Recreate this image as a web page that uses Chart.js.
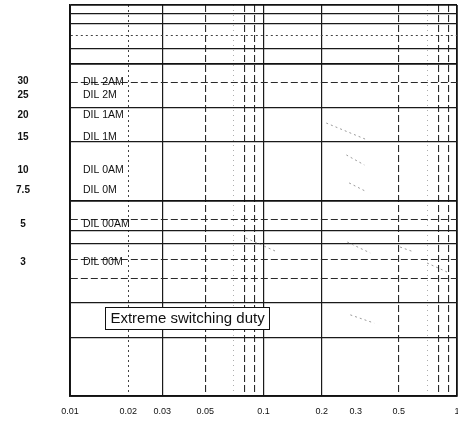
<!DOCTYPE html>
<html>
<head>
<meta charset="utf-8">
<script src="https://cdn.jsdelivr.net/npm/chart.js@4/dist/chart.umd.min.js"></script>
<style>
html,body{margin:0;padding:0;background:#fff;}
canvas{display:block;}
</style>
</head>
<body>
<canvas id="c" width="458" height="421"></canvas>
<script>
// ---------- data ----------
const xTickLabels = [0.01, 0.02, 0.03, 0.05, 0.1, 0.2, 0.3, 0.5, 1];
const xGridValues = [0.01,0.02,0.03,0.04,0.05,0.06,0.07,0.08,0.09,0.1,0.2,0.3,0.4,0.5,0.6,0.7,0.8,0.9,1];
const yGridValues = [1,2,3,4,5,6,7,8,9,10,20,30,40,50,60,70,80,90,100];
const ratingLabels = ['30', '25', '20', '15', '10', '7.5', '5', '3'];
const contactorLabels = ['DIL 2AM', 'DIL 2M', 'DIL 1AM', 'DIL 1M', 'DIL 0AM', 'DIL 0M', 'DIL 00AM', 'DIL 00M'];
const rowLevels = [40.5, 34.5, 27.3, 21.0, 14.3, 11.3, 7.6, 4.85];
const dutyCaption = 'Extreme switching duty';
const dutyCaptionAt = [0.0405, 2.5];
// faint characteristic curve fragments (x, y in data units)
const curveA = [{x:0.211,y:24.9},{x:0.344,y:20.4}];
const curveB = [{x:0.268,y:17.1},{x:0.332,y:15.2}];
const curveC = [{x:0.277,y:12.3},{x:0.340,y:11.1}];
const curveD = [{x:0.081,y:6.43},{x:0.118,y:5.45}];
const curveE = [{x:0.271,y:6.13},{x:0.356,y:5.39}];
const curveF = [{x:0.508,y:5.78},{x:0.600,y:5.45}];
const curveG = [{x:0.700,y:4.79},{x:0.888,y:4.31}];
const curveH = [{x:0.281,y:2.60},{x:0.373,y:2.36}];

// ---------- styles ----------
const STY = {
  B: {w:1.8, c:'#111', d:[]},
  S: {w:1.2, c:'#1a1a1a', d:[]},
  D: {w:1.1, c:'#2a2a2a', d:[7,3]},
  d: {w:1.0, c:'#444', d:[2,3]},
  f: {w:0.8, c:'#999', d:[1,4]},
  n: {w:0,   c:'rgba(0,0,0,0)', d:[]}
};
const xStyleCodes = 'BdSnDnfDDSSnnDnfDDB';
const yStyleCodes = 'BSSDDSSDnBSSDBSdSSB';
function styleFor(codes, values, v) {
  for (let i = 0; i < values.length; i++) {
    if (Math.abs(values[i] - v) / values[i] < 1e-6) return STY[codes[i]];
  }
  return STY.n;
}
const FONT = '"Liberation Sans", Arial, Helvetica, sans-serif';

const textPlugin = {
  id: 'texts',
  afterDatasetsDraw(chart) {
    const ctx = chart.ctx;
    const xs = chart.scales.x, ys = chart.scales.y;
    const area = chart.chartArea;
    ctx.save();
    ctx.textBaseline = 'middle';
    for (let i = 0; i < rowLevels.length; i++) {
      const py = ys.getPixelForValue(rowLevels[i]);
      ctx.fillStyle = '#111';
      ctx.font = 'bold 10px ' + FONT;
      ctx.textAlign = 'center';
      ctx.fillText(ratingLabels[i], 23, py);
      ctx.font = '10.5px ' + FONT;
      ctx.textAlign = 'left';
      ctx.fillText(contactorLabels[i], area.left + 13, py);
    }
    // caption box
    ctx.font = '15px ' + FONT;
    const cx = xs.getPixelForValue(dutyCaptionAt[0]);
    const cy = ys.getPixelForValue(dutyCaptionAt[1]);
    const tw = ctx.measureText(dutyCaption).width;
    const bw = tw + 10, bh = 22;
    ctx.fillStyle = '#fff';
    ctx.fillRect(cx - bw / 2, cy - bh / 2, bw, bh);
    ctx.strokeStyle = '#111';
    ctx.lineWidth = 1;
    ctx.strokeRect(Math.round(cx - bw / 2) + 0.5, Math.round(cy - bh / 2) + 0.5, Math.round(bw), bh);
    ctx.fillStyle = '#111';
    ctx.textAlign = 'center';
    ctx.fillText(dutyCaption, cx, cy + 1);
    ctx.restore();
  }
};

function seg(data) {
  return {data, borderColor:'#9a9a9a', borderWidth:1, borderDash:[2,3], pointRadius:0, fill:false, tension:0};
}

new Chart(document.getElementById('c'), {
  type: 'line',
  data: {
    datasets: [seg(curveA), seg(curveB), seg(curveC), seg(curveD), seg(curveE), seg(curveF), seg(curveG), seg(curveH)]
  },
  options: {
    responsive: false,
    animation: false,
    devicePixelRatio: 1,
    layout: {padding: {left: 0, right: 1, top: 5, bottom: 0}},
    plugins: {legend: {display: false}, tooltip: {enabled: false}},
    scales: {
      x: {
        type: 'logarithmic',
        min: 0.01, max: 1,
        afterBuildTicks: s => { s.ticks = xGridValues.map(v => ({value: v})); },
        afterFit: s => { s.height = 25; s.paddingLeft = 0; s.paddingRight = 0; },
        grid: {
          drawTicks: false,
          color: c => c.tick ? styleFor(xStyleCodes, xGridValues, c.tick.value).c : '#111',
          lineWidth: c => c.tick ? styleFor(xStyleCodes, xGridValues, c.tick.value).w : 1.8
        },
        border: {
          display: true, color: '#111', width: 1.8,
          dash: c => c.tick ? styleFor(xStyleCodes, xGridValues, c.tick.value).d : []
        },
        ticks: {
          autoSkip: false, maxRotation: 0, padding: 10,
          color: '#111',
          font: {family: FONT, size: 9},
          callback: v => xTickLabels.some(t => Math.abs(t - v) / t < 1e-6) ? String(v) : ''
        }
      },
      y: {
        type: 'logarithmic',
        min: 1, max: 100,
        afterBuildTicks: s => { s.ticks = yGridValues.map(v => ({value: v})); },
        afterFit: s => { s.width = 70; },
        grid: {
          drawTicks: false,
          color: c => c.tick ? styleFor(yStyleCodes, yGridValues, c.tick.value).c : '#111',
          lineWidth: c => c.tick ? styleFor(yStyleCodes, yGridValues, c.tick.value).w : 1.8
        },
        border: {
          display: true, color: '#111', width: 1.8,
          dash: c => c.tick ? styleFor(yStyleCodes, yGridValues, c.tick.value).d : []
        },
        ticks: {display: false}
      }
    }
  },
  plugins: [textPlugin]
});
</script>
</body>
</html>
